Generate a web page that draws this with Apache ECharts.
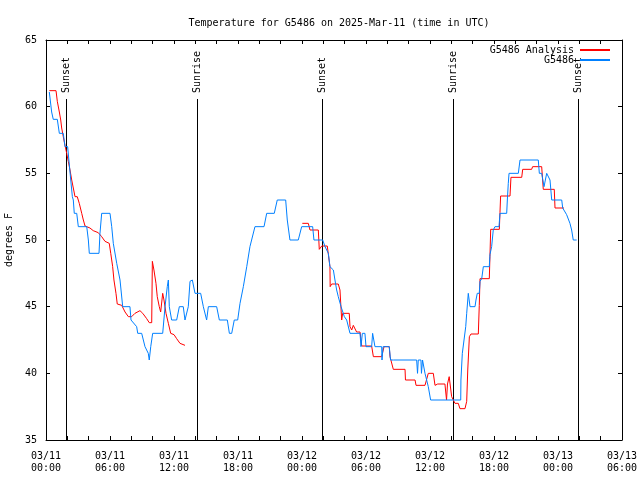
<!DOCTYPE html>
<html><head><meta charset="utf-8">
<script src="https://cdn.jsdelivr.net/npm/echarts@6/dist/echarts.min.js"></script>
<style>html,body{margin:0;padding:0;background:#fff}#c{width:640px;height:480px}</style>
</head><body><div id="c"></div>
<script>
// hours since 03/11 00:00 UTC
var tickLabels = ['03/11\n00:00','03/11\n06:00','03/11\n12:00','03/11\n18:00','03/12\n00:00','03/12\n06:00','03/12\n12:00','03/12\n18:00','03/13\n00:00','03/13\n06:00'];
var eventTimes = [1.9, 14.18, 25.9, 38.18, 49.9];
var eventNames = ['Sunset','Sunrise','Sunset','Sunrise','Sunset'];

var obsHours = [0.31,0.53,0.68,1.06,1.25,1.62,1.78,2.03,2.32,2.47,2.56,2.65,2.88,3.03,3.82,3.97,4.06,4.97,5.06,5.22,6.0,6.16,6.31,6.63,6.94,7.19,7.87,7.97,8.5,8.6,8.97,9.28,9.59,9.68,9.82,10.0,10.94,11.16,11.37,11.47,11.56,11.78,12.25,12.5,12.87,13.03,13.19,13.34,13.5,13.72,13.97,14.5,14.75,15.06,15.22,16.0,16.25,17.0,17.19,17.41,17.65,17.97,18.19,18.5,18.82,19.12,19.59,20.44,20.69,21.4,21.68,22.47,22.62,22.87,23.65,23.97,24.75,25.0,25.12,25.94,26.16,26.47,26.62,26.94,27.09,27.25,27.4,27.66,27.97,28.19,28.5,29.44,29.53,29.66,29.9,30.0,30.53,30.62,30.75,30.84,31.47,31.5,31.6,32.18,32.3,32.56,34.75,34.83,34.9,35.15,35.2,35.3,35.53,35.84,36.06,38.88,38.9,39.03,39.19,39.35,39.44,39.59,39.75,40.22,40.31,40.43,40.62,40.69,40.85,41.0,41.56,41.62,41.78,41.93,42.09,42.47,42.56,43.19,43.25,43.34,43.41,44.28,44.44,46.15,46.25,46.47,46.69,46.87,46.94,47.09,47.25,47.41,48.35,48.44,48.81,49.12,49.28,49.43,49.75];
var obsTemps = [61.1,59.6,59.05,59.05,58.0,58.0,57.0,57.0,54.5,53.25,53.0,52.0,52.0,51.0,51.0,50.0,49.0,49.0,50.5,52.0,52.0,51.0,49.75,48.25,47.0,45.0,45.0,44.0,43.5,43.0,43.0,42.0,41.5,41.0,42.0,43.0,43.0,45.0,46.5,47.0,45.0,44.0,44.0,45.0,45.0,44.0,44.0,45.0,46.9,47.0,46.0,46.0,45.0,44.0,45.0,45.0,44.0,44.0,43.0,43.0,44.0,44.0,45.25,46.5,48.0,49.5,51.0,51.0,52.0,52.0,53.0,53.0,51.5,50.0,50.0,51.0,51.0,51.0,50.0,50.0,49.5,49.0,48.0,47.75,47.0,46.25,45.75,45.0,44.25,44.0,43.0,43.0,42.0,43.0,43.0,42.0,42.0,43.0,43.0,42.0,42.0,41.0,42.0,42.0,41.0,41.0,41.0,40.0,41.0,41.0,40.0,41.0,40.0,39.0,38.0,38.0,39.5,41.5,42.5,43.5,44.5,46.0,45.0,45.0,45.5,46.0,46.0,46.9,47.1,48.0,48.0,48.9,49.5,50.75,51.0,51.0,52.0,52.0,53.0,54.25,55.0,55.0,56.0,56.0,55.0,55.0,54.0,54.0,55.0,55.0,54.5,53.0,53.0,52.4,51.9,51.25,50.75,50.0,50.0];

var anaHours = [0.31,0.94,1.06,1.25,1.38,1.47,1.62,1.78,1.94,2.09,2.25,2.41,2.56,2.72,2.93,3.12,3.35,3.5,3.66,4.12,4.43,4.9,5.22,5.53,5.93,6.07,6.25,6.37,6.56,6.68,7.1,7.41,7.72,8.03,8.34,8.81,9.07,9.44,9.68,9.91,9.97,10.12,10.31,10.43,10.62,10.75,10.94,11.06,11.25,11.47,11.69,12.0,12.25,12.56,12.72,13.03,18.0,24.03,24.59,24.75,25.53,25.62,25.85,26.37,26.62,26.64,26.78,27.4,27.56,27.72,27.81,28.43,28.5,28.66,28.81,29.12,29.44,29.6,30.53,30.69,31.47,31.69,32.18,32.25,32.56,33.66,33.7,34.6,34.69,35.53,35.84,36.31,36.47,36.72,37.4,37.55,37.64,37.8,38.03,38.34,38.65,38.81,39.28,39.44,39.54,39.69,39.84,40.53,40.62,40.69,41.56,41.62,41.69,42.5,42.56,42.62,43.5,43.59,44.6,44.69,45.53,45.62,46.47,46.56,46.62,47.65,47.72,48.56];
var anaTemps = [61.2,61.2,60.4,59.6,59.0,58.4,57.75,57.1,56.5,55.9,55.25,54.5,53.9,53.25,53.25,52.75,52.0,51.5,51.05,50.9,50.7,50.55,50.25,49.9,49.75,49.0,48.0,47.0,46.0,45.2,45.1,44.6,44.25,44.25,44.5,44.7,44.5,44.1,43.8,43.8,48.4,47.75,46.75,45.75,45.0,44.6,46.0,45.5,44.5,43.75,43.0,42.9,42.6,42.25,42.1,42.1,null,51.25,51.25,50.75,50.75,49.3,49.55,49.55,48.0,46.5,46.7,46.7,46.25,44.0,44.5,44.5,43.5,43.25,43.6,43.1,43.1,42.05,42.05,41.25,41.25,42.0,42.0,41.25,40.3,40.3,39.5,39.5,39.1,39.1,40.0,40.0,39.1,39.2,39.2,38.0,39.2,39.75,38.25,37.75,37.75,37.35,37.35,37.9,40.25,42.75,42.95,42.95,45.1,47.1,47.1,48.75,50.8,50.8,52.05,53.3,53.3,54.7,54.7,55.3,55.3,55.5,55.5,54.5,53.8,53.8,52.4,52.4];

function zip(a, b) { return a.map(function (v, i) { return [v, b[i]]; }); }

var FONT = 'DejaVu Sans Mono';
var chart = echarts.init(document.getElementById('c'), null, {renderer: 'canvas'});
var axisCommon = {
  axisLine: {show: true, onZero: false, lineStyle: {color: '#000', width: 1}},
  axisTick: {show: true, inside: true, length: 4, lineStyle: {color: '#000'}},
  splitLine: {show: false}
};
chart.setOption({
  animation: false,
  backgroundColor: '#fff',
  title: {
    text: 'Temperature for G5486 on 2025-Mar-11 (time in UTC)',
    left: 334, top: 13, textAlign: 'center',
    textStyle: {fontFamily: FONT, fontSize: 10, fontWeight: 'normal', color: '#000'}
  },
  legend: {
    orient: 'vertical', right: 25, top: 40, align: 'right',
    itemWidth: 30, itemHeight: 2, itemGap: 0, icon: 'rect',
    textStyle: {fontFamily: FONT, fontSize: 10, color: '#000', padding: [0, 1, 0, 0]},
    data: ['G5486 Analysis', 'G5486']
  },
  grid: {left: 46, right: 18, top: 40, bottom: 40, containLabel: false, outerBoundsMode: 'none'},
  xAxis: [
    Object.assign({}, axisCommon, {
      type: 'value', min: 0, max: 54, interval: 2, position: 'bottom',
      axisLabel: {
        show: true, showMaxLabel: true, showMinLabel: true, hideOverlap: false,
        margin: 10, fontFamily: FONT, fontSize: 10, color: '#000', lineHeight: 12,
        formatter: function (v) { return (v % 6 === 0) ? tickLabels[v / 6] : ''; }
      }
    }),
    Object.assign({}, axisCommon, {
      type: 'value', min: 0, max: 54, interval: 2, position: 'top',
      axisLabel: {show: false}
    })
  ],
  yAxis: [
    Object.assign({}, axisCommon, {
      type: 'value', min: 35, max: 65, interval: 5, position: 'left',
      name: 'degrees F', nameLocation: 'middle', nameRotate: 90, nameGap: 28,
      nameTextStyle: {fontFamily: FONT, fontSize: 10, color: '#000'},
      axisLabel: {margin: 9, fontFamily: FONT, fontSize: 10, color: '#000'}
    }),
    Object.assign({}, axisCommon, {
      type: 'value', min: 35, max: 65, interval: 5, position: 'right',
      axisLabel: {show: false}
    })
  ],
  series: [
    {
      type: 'custom', name: 'events', xAxisIndex: 0, yAxisIndex: 0,
      data: eventTimes.map(function (t, i) { return [t, i]; }),
      encode: {x: 0},
      renderItem: function (params, api) {
        var t = api.value(0);
        var bot = api.coord([t, 35]);
        var top = api.coord([t, 65]);
        var name = eventNames[api.value(1)];
        return {
          type: 'group',
          children: [
            {type: 'line', shape: {x1: Math.round(bot[0]) + 0.5, y1: top[1] + 59, x2: Math.round(bot[0]) + 0.5, y2: bot[1]},
             style: {stroke: '#000', lineWidth: 1}},
            {type: 'text', x: bot[0] + 0.5, y: top[1] + 53, rotation: Math.PI / 2,
             style: {text: name, textAlign: 'left', textVerticalAlign: 'middle', font: '10px ' + FONT, fill: '#000'}}
          ]
        };
      },
      silent: true, z: 1
    },
    {
      type: 'line', name: 'G5486 Analysis', data: zip(anaHours, anaTemps),
      showSymbol: false, connectNulls: false,
      lineStyle: {color: '#ff0000', width: 1}, itemStyle: {color: '#ff0000'}, z: 2
    },
    {
      type: 'line', name: 'G5486', data: zip(obsHours, obsTemps),
      showSymbol: false,
      lineStyle: {color: '#0080ff', width: 1}, itemStyle: {color: '#0080ff'}, z: 3
    }
  ]
});
</script></body></html>
